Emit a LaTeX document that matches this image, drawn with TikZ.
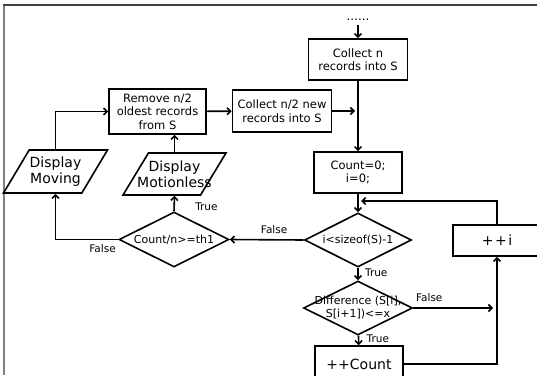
\documentclass[tikz,border=0pt]{standalone}
\usepackage{fontspec}
\setmainfont{DejaVu Sans}
\usetikzlibrary{shapes.geometric,arrows.meta}
\begin{document}
\begin{tikzpicture}[x=1pt,y=-1pt,line width=1.6pt,>={Straight Barb[length=3.5pt,width=7pt]},
	box/.style={draw,rectangle,align=center,inner sep=1pt,font=\fontsize{11.5}{13.5}\selectfont},
	cond/.style={draw,diamond,inner sep=-30pt,align=center,font=\fontsize{11}{13}\selectfont},
	io/.style={draw,trapezium,trapezium left angle=64,trapezium right angle=116,trapezium stretches=true,inner sep=2pt},
	iotext/.style={align=center,inner sep=0pt,font=\fontsize{14}{16}\selectfont},
	lbl/.style={font=\fontsize{10.5}{12}\selectfont}]
				\useasboundingbox (0,0) rectangle (537,375);
				\draw[black!50,line width=1.4pt] (4,375)--(4,5);
				\draw[black!75,line width=1.2pt] (3,5)--(537,5);
				% right column
				\node (dots) at (358,20) {\fontsize{12}{12}\selectfont......};
				\node[box,minimum width=99,minimum height=41] (collect) at (358,59.5) {Collect n\\records into S};
				\node[box,minimum width=88,minimum height=41] (init) at (358,172.5) {Count=0;\\i=0;};
				\node[cond,minimum width=107,minimum height=54] (loop) at (358,240) {i<sizeof(S)-1};
				\node[cond,minimum width=109,minimum height=54] (diff) at (358,308) {Difference (S[i],\\S[i+1])<=x};
				\node[box,minimum width=88,minimum height=36,font=\fontsize{14}{16}\selectfont] (count) at (359,364) {++Count};
				\node[box,minimum width=88,minimum height=31,font=\fontsize{14}{16}\selectfont] (inc) at (497,240.5) {+\kern1.5pt+\kern1.5pt i};
				% left part
				\node[box,minimum width=97,minimum height=45] (remove) at (157.5,111.5) {Remove n/2\\oldest records\\from S};
				\node[box,minimum width=99,minimum height=42] (half) at (282,111) {Collect n/2 new\\records into S};
				\node[io,minimum width=104,minimum height=43,label={[iotext]center:Display\\Moving}] (moving) at (55.5,171.5) {};
				\node[io,minimum width=103,minimum height=42,label={[iotext]center:Display\\Motionless}] (still) at (174.5,174) {};
				\node[cond,minimum width=110,minimum height=55] (check) at (174,239.5) {Count/n>=th1};
				\coordinate (merge) at (361,201);
				\coordinate (skip) at (493,308);
				% connectors
				\draw[->] (dots)--(collect);
				\draw[->] (collect)--(init);
				\draw[->] (init)--(loop);
				\draw[->] (loop)--(diff) node[lbl,pos=0.4,right=3pt]{True};
				\draw[->] (diff)--(count) node[lbl,pos=0.3,right=4pt]{True};
				\draw[->] (diff.east)--(skip) node[lbl,pos=0.2,above=2pt]{False};
				\draw[->] (count.east)-|(inc.south);
				\draw[->] (inc.north)|-(merge);
				\draw[->] (loop.west)--(check.east) node[lbl,pos=0.4,above=2pt]{False};
				\draw[->] (check.north)--(still.south) node[lbl,pos=0.3,right=17pt]{True};
				\draw[->] (check.west)-|(moving.south) node[lbl,pos=0.125,below=1pt]{False};
				\draw[->] (moving.north)|-(remove.west);
				\draw[->] (still.north)--(still.north|-remove.south);
				\draw[->] (remove)--(half);
				\draw[->] (half.east)--([xshift=-3pt]half.east-|collect.south);
			\end{tikzpicture}
\end{document}
